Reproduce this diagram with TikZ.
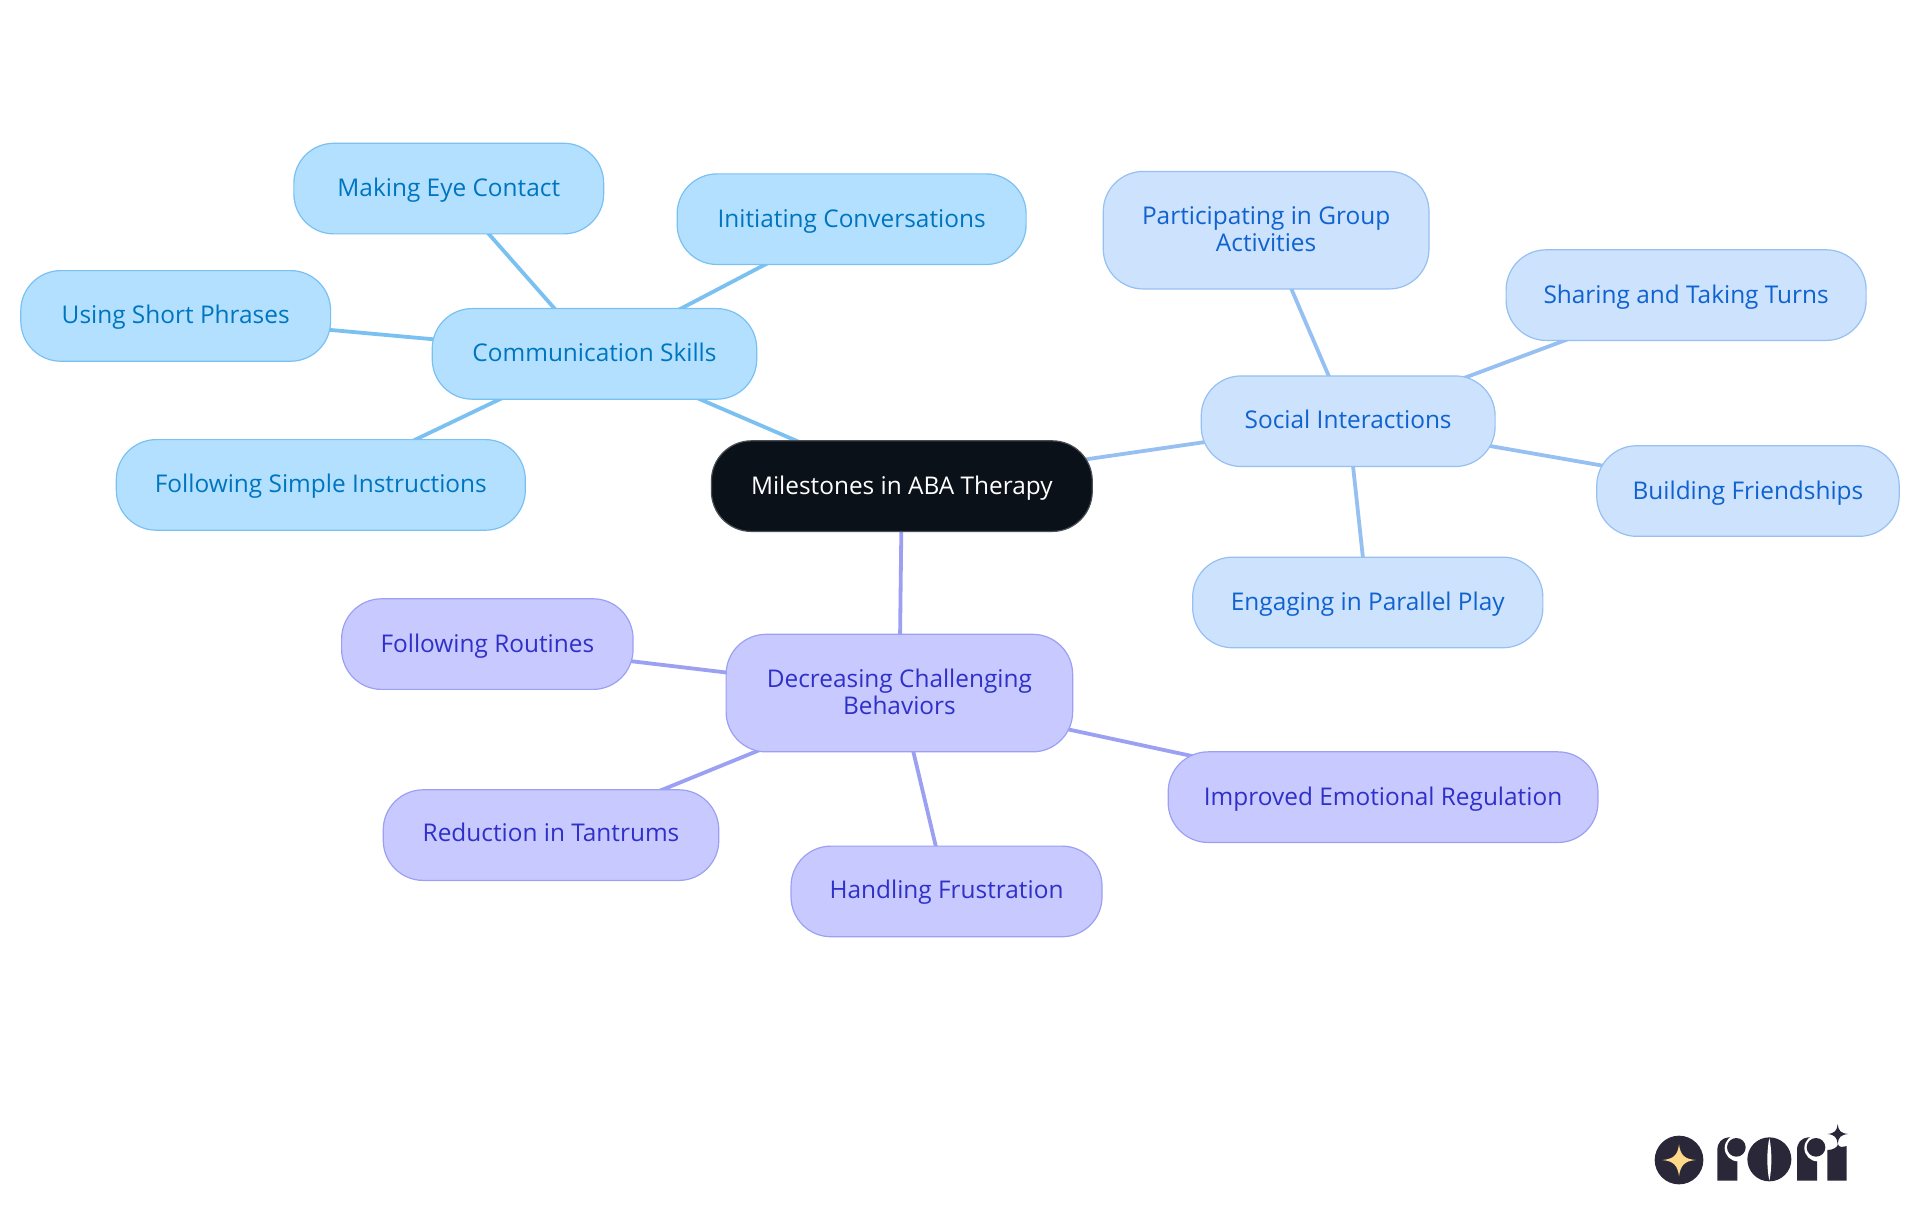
\documentclass[tikz,border=0pt]{standalone}
\usepackage{fontspec}
\setmainfont{Open Sans}
\usetikzlibrary{backgrounds}
\definecolor{cfill}{HTML}{B3E0FF}\definecolor{cline}{HTML}{7AC1F2}\definecolor{ctext}{HTML}{0075BF}
\definecolor{sfill}{HTML}{CCE2FD}\definecolor{sline}{HTML}{96C0F2}\definecolor{stext}{HTML}{0F62CF}
\definecolor{dfill}{HTML}{C8CAFF}\definecolor{dline}{HTML}{9CA0F3}\definecolor{dtext}{HTML}{2F30C8}
\definecolor{rootfill}{HTML}{0B1119}\definecolor{rootline}{HTML}{4A4F55}
\definecolor{logodark}{HTML}{2A2838}\definecolor{logostar}{HTML}{FFD98A}
\newcommand{\tailrule}{\rule[-1.2pt]{0pt}{1.2pt}}
\tikzset{
  sz/.style 2 args={minimum width=#1*0.61224pt,minimum height=#2*0.61224pt},
  one/.style={text height=11pt,text depth=3pt},
  oneup/.style={text height=10.4pt,text depth=3.6pt},
  base/.style={rectangle,rounded corners=20pt,inner sep=0pt,line width=0.6pt,align=center,
    font=\fontsize{12.2}{13.5}\selectfont},
  rootbox/.style={base,fill=rootfill,draw=rootline,text=white},
  cbox/.style={base,fill=cfill,draw=cline,text=ctext},
  sbox/.style={base,fill=sfill,draw=sline,text=stext},
  dbox/.style={base,fill=dfill,draw=dline,text=dtext},
  cedge/.style={draw=cline,line width=1.9pt},
  sedge/.style={draw=sline,line width=1.9pt},
  dedge/.style={draw=dline,line width=1.9pt},
}
\begin{document}
\begin{tikzpicture}[x=0.61224pt,y=-0.61224pt]
\useasboundingbox (0,0) rectangle (1568,992.25);
\node[rootbox,one,sz={311}{74}] (root) at (736.5,397) {Milestones in ABA Therapy};
\node[cbox,one,sz={265}{74}] (comm) at (485.5,289) {Communication Skills};
\node[cbox,one,sz={253}{74}] (eye) at (366.5,154) {Making Eye Contact};
\node[cbox,one,sz={285}{74}] (init) at (695.5,179) {Initiating Conversations};
\node[cbox,one,sz={253}{74}] (short) at (143.5,258) {Using Short Phrases};
\node[cbox,one,sz={334}{74}] (simple) at (262,396) {Following Simple Instructions};
\node[sbox,oneup,sz={240}{74}] (social) at (1101,344) {Social Interactions};
\node[sbox,sz={266}{96}] (group) at (1034,188) {Participating in Group\\Activities\tailrule};
\node[sbox,one,sz={294}{74}] (share) at (1377,241) {Sharing and Taking Turns};
\node[sbox,one,sz={247}{74}] (friend) at (1427.5,401) {Building Friendships};
\node[sbox,one,sz={286}{74}] (play) at (1117,492) {Engaging in Parallel Play};
\node[dbox,sz={283}{96}] (dec) at (734.5,566) {Decreasing Challenging\\Behaviors\tailrule};
\node[dbox,one,sz={238}{74}] (routine) at (398,526) {Following Routines};
\node[dbox,oneup,sz={274}{74}] (tantrum) at (450,682) {Reduction in Tantrums};
\node[dbox,oneup,sz={254}{74}] (frust) at (773,728) {Handling Frustration};
\node[dbox,one,sz={351}{74}] (emo) at (1129.5,651) {Improved Emotional Regulation};
\begin{scope}[on background layer]
\draw[cedge] (root.center) -- (comm.center);
\draw[cedge] (comm.center) -- (eye.center);
\draw[cedge] (comm.center) -- (init.center);
\draw[cedge] (comm.center) -- (short.center);
\draw[cedge] (comm.center) -- (simple.center);
\draw[sedge] (root.center) -- (social.center);
\draw[sedge] (social.center) -- (group.center);
\draw[sedge] (social.center) -- (share.center);
\draw[sedge] (social.center) -- (friend.center);
\draw[sedge] (social.center) -- (play.center);
\draw[dedge] (root.center) -- (dec.center);
\draw[dedge] (dec.center) -- (routine.center);
\draw[dedge] (dec.center) -- (tantrum.center);
\draw[dedge] (dec.center) -- (frust.center);
\draw[dedge] (dec.center) -- (emo.center);
\end{scope}
% logo badge
\begin{scope}[shift={(815pt,-552.5pt)},x=0.16667pt,y=-0.16667pt]
\fill[logodark] (147,165) circle (73);
\fill[logostar] (147,118) .. controls (151,150) and (163,162) .. (197,165)
  .. controls (163,168) and (151,182) .. (147,214)
  .. controls (143,182) and (131,168) .. (97,165)
  .. controls (131,162) and (143,150) .. (147,118) -- cycle;
\end{scope}
% logo letters
\begin{scope}[shift={(855pt,-560pt)},x=0.16667pt,y=-0.16667pt]
\foreach \dx in {0,239}{
  \fill[logodark] (22+\dx,182) -- (22+\dx,90) .. controls (22+\dx,68) and (35+\dx,54) .. (55+\dx,52)
    -- (82+\dx,52) -- (82+\dx,182) -- cycle;
  \fill[white] (84+\dx,84) circle (40);
  \fill[logodark] (79+\dx,82) circle (28);
}
\fill[logodark] (178,118) circle (66);
\fill[white] (178,54) .. controls (186,90) and (186,146) .. (178,182)
  .. controls (170,146) and (170,90) .. (178,54) -- cycle;
\fill[logodark] (352,182) -- (352,90) .. controls (368,90) and (383,82) .. (384,72)
  .. controls (385,82) and (397,82) .. (410,78) -- (410,182) -- cycle;
\fill[logodark] (383,12) .. controls (385,32) and (392,40) .. (415,42)
  .. controls (392,44) and (385,52) .. (383,72)
  .. controls (381,52) and (374,44) .. (352,42)
  .. controls (374,40) and (381,32) .. (383,12) -- cycle;
\end{scope}
\end{tikzpicture}
\end{document}
